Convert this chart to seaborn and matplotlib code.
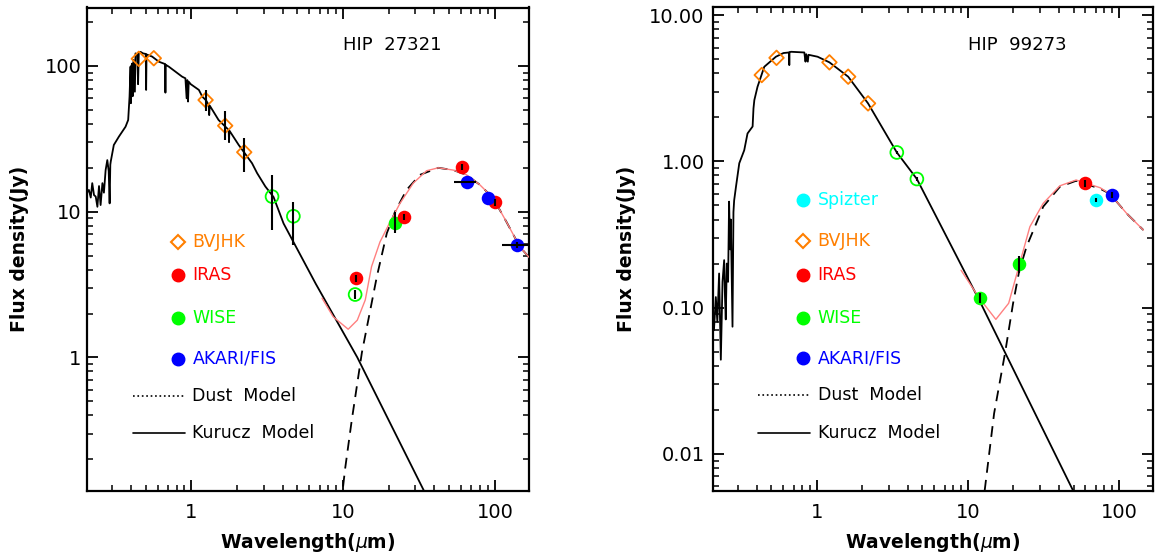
import numpy as np
import pandas as pd
import matplotlib
matplotlib.use("Agg")
import matplotlib.pyplot as plt
import seaborn as sns
from matplotlib.ticker import FixedLocator, FixedFormatter, LogLocator, NullFormatter

# ---------------- HIP 27321 (left) ----------------
l_star = "HIP  27321"
l_kur_wl = [0.205, 0.211, 0.217, 0.222, 0.228, 0.234, 0.240, 0.246, 0.252, 0.259, 0.265,
            0.272, 0.279, 0.285, 0.289, 0.292, 0.294, 0.308, 0.333, 0.368, 0.383, 0.391,
            0.397, 0.399, 0.402, 0.407, 0.410, 0.415, 0.424, 0.428, 0.440, 0.445, 0.450,
            0.462, 0.480, 0.500, 0.503, 0.506, 0.551, 0.610, 0.672, 0.674, 0.676, 0.709,
            0.868, 0.913, 0.930, 0.940, 0.950, 0.960, 0.990, 1.12, 1.18, 1.25, 1.30, 1.31,
            1.32, 1.51, 1.76, 1.77, 1.78, 2.05, 2.51, 2.71, 3.07, 3.48, 4.05, 6.6, 12.4,
            33.9, 36.0]
l_kur_fx = [13.5, 14.1, 12.5, 15.7, 13.0, 12.7, 10.8, 15.0, 11.1, 15.7, 13.5,
            19.3, 22.6, 19.0, 11.4, 21.0, 22.1, 28.7, 32.8, 38.3, 42.6, 61.6,
            99.0, 55.5, 100.0, 104.0, 62.0, 110.0, 66.6, 122.0, 120.0, 75.0, 123.0,
            125.0, 122.0, 121.0, 68.5, 120.0, 116.0, 107.0, 103.0, 65.6, 102.0, 99.0,
            84.5, 82.3, 60.0, 80.0, 57.0, 78.0, 75.0, 68.5, 61.6, 58.0, 54.0, 46.0,
            53.5, 42.6, 36.4, 30.0, 36.0, 28.7, 21.5, 18.4, 14.9, 12.6, 8.3, 3.2, 1.0,
            0.123, 0.108]
l_dust_wl = [10.0, 10.3, 11.4, 13.3, 16.7, 19.4, 22.0, 26.2, 32.1, 42.4, 53.2, 65.1,
             79.6, 97.5, 119.4, 146.0, 170.0]
l_dust_fx = [0.13, 0.171, 0.37, 1.08, 3.6, 7.1, 10.0, 14.1, 17.9, 20.0, 19.3, 17.9,
             15.3, 12.4, 8.5, 5.75, 4.8]
l_tot_wl = [7.26, 8.6, 10.8, 12.4, 14.0, 15.4, 17.5, 20.4, 23.7, 29.0, 35.5, 42.4,
            53.2, 65.1, 79.6, 97.5, 119.4, 146.0, 170.0]
l_tot_fx = [2.55, 1.9, 1.56, 1.8, 2.48, 4.2, 6.2, 8.5, 11.4, 15.7, 19.1, 20.0,
            19.3, 17.9, 15.3, 12.4, 8.5, 5.75, 4.8]

l_bv_wl = [0.45, 0.565, 1.24, 1.67, 2.23]
l_bv_fx = [112.0, 113.0, 58.4, 38.9, 25.6]
l_bv_lo = [112.0, 113.0, 48.8, 31.2, 18.8]
l_bv_hi = [112.0, 113.0, 68.4, 48.8, 31.9]
l_wo_wl = [3.4, 4.7, 12.0]
l_wo_fx = [12.7, 9.3, 2.7]
l_wo_lo = [7.5, 5.9, 2.5]
l_wo_hi = [17.9, 11.7, 2.9]
l_wf_wl = [22.1]
l_wf_fx = [8.3]
l_wf_lo = [7.1]
l_wf_hi = [10.0]
l_ir_wl = [12.2, 25.3, 60.4, 100.0]
l_ir_fx = [3.5, 9.2, 20.2, 11.6]
l_ir_lo = [3.3, 8.8, 19.2, 11.0]
l_ir_hi = [3.7, 9.6, 21.2, 12.2]
l_ak_wl = [65.2, 90.4, 139.6]
l_ak_fx = [16.0, 12.4, 5.9]
l_ak_xlo = [53.8, 90.4, 112.0]
l_ak_xhi = [75.0, 90.4, 165.6]
l_ak_lo = [16.0, 12.4, 5.6]
l_ak_hi = [16.0, 12.4, 6.2]

# ---------------- HIP 99273 (right) ----------------
r_star = "HIP  99273"
r_kur_wl = [0.202, 0.203, 0.208, 0.214, 0.219, 0.225, 0.231, 0.237, 0.243, 0.246, 0.249,
            0.253, 0.258, 0.262, 0.266, 0.269, 0.276, 0.280, 0.283, 0.291, 0.306, 0.330,
            0.347, 0.375, 0.380, 0.385, 0.404, 0.448, 0.535, 0.600, 0.654, 0.656, 0.658,
            0.673, 0.825, 0.840, 0.850, 0.870, 0.880, 1.01, 1.21, 1.61, 2.18, 3.38, 4.59,
            12.0, 49.7, 53.0]
r_kur_fx = [0.035, 0.101, 0.07, 0.118, 0.08, 0.171, 0.044, 0.15, 0.211, 0.12, 0.083,
            0.2, 0.15, 0.53, 0.25, 0.40, 0.074, 0.45, 0.54, 0.67, 0.97, 1.19,
            1.55, 1.73, 2.3, 2.62, 3.23, 4.43, 5.19, 5.5, 5.55, 4.55, 5.56,
            5.61, 5.55, 4.8, 5.4, 4.8, 5.35, 5.19, 4.75, 3.79, 2.49, 1.15, 0.757,
            0.11, 0.0056, 0.0048]
r_dust_wl = [12.9, 14.9, 17.6, 19.9, 21.8, 24.4, 31.5, 40.6, 52.0, 75.0, 87.0, 112.5, 145.0]
r_dust_fx = [0.0056, 0.0189, 0.0488, 0.107, 0.176, 0.26, 0.49, 0.67, 0.736, 0.65, 0.60,
             0.44, 0.339]
r_tot_wl = [9.0, 11.9, 15.3, 18.6, 22.0, 25.7, 31.5, 40.6, 52.0, 75.0, 87.0, 112.5, 145.0]
r_tot_fx = [0.18, 0.116, 0.083, 0.107, 0.2, 0.357, 0.516, 0.68, 0.745, 0.66, 0.60, 0.44,
            0.339]

r_sp_wl = [70.0]
r_sp_fx = [0.543]
r_sp_lo = [0.525]
r_sp_hi = [0.56]
r_bv_wl = [0.431, 0.54, 1.21, 1.61, 2.18]
r_bv_fx = [3.89, 5.1, 4.75, 3.79, 2.49]
r_wo_wl = [3.38, 4.59]
r_wo_fx = [1.15, 0.757]
r_wo_lo = [1.12, 0.735]
r_wo_hi = [1.18, 0.78]
r_wf_wl = [12.0, 21.8]
r_wf_fx = [0.117, 0.198]
r_wf_lo = [0.108, 0.172]
r_wf_hi = [0.126, 0.225]
r_ir_wl = [59.5]
r_ir_fx = [0.708]
r_ir_lo = [0.67]
r_ir_hi = [0.75]
r_ak_wl = [89.5]
r_ak_fx = [0.589]
r_ak_lo = [0.56]
r_ak_hi = [0.62]

ORANGE = "#FF7F00"
RED = "#FF0000"
GREEN = "#00FF00"
BLUE = "#0000FF"
CYAN = "#00FFFF"
PINK = "#FF8080"

sns.set_theme(style="ticks")
plt.rcParams["font.family"] = ["DejaVu Sans"]
plt.rcParams["axes.linewidth"] = 1.6
for k in ["text.color", "axes.labelcolor", "xtick.color", "ytick.color", "axes.edgecolor"]:
    plt.rcParams[k] = "black"


def draw_lines(ax, kw, kf, dw, df, tw, tf):
    sns.lineplot(x=kw, y=kf, ax=ax, color="black", lw=1.3, sort=False,
                 estimator=None, zorder=3)
    sns.lineplot(x=dw, y=df, ax=ax, color="black", lw=1.3, sort=False,
                 estimator=None, linestyle=(0, (6, 4)), zorder=3)
    sns.lineplot(x=tw, y=tf, ax=ax, color=PINK, lw=1.0, sort=False,
                 estimator=None, zorder=4)


def bars(ax, x, y, lo, hi, xlo=None, xhi=None):
    x = np.array(x)
    y = np.array(y)
    yerr = [y - np.array(lo), np.array(hi) - y]
    xerr = None
    if xlo is not None:
        xerr = [x - np.array(xlo), np.array(xhi) - x]
    ax.errorbar(x, y, yerr=yerr, xerr=xerr, fmt="none", ecolor="black",
                elinewidth=1.5, capsize=0, zorder=7)


def dots(ax, x, y, color, open_=False, marker="o", size=60):
    if open_:
        sns.scatterplot(x=x, y=y, ax=ax, marker=marker, s=size, facecolors="none",
                        edgecolor=color, linewidth=1.3, zorder=6)
    else:
        sns.scatterplot(x=x, y=y, ax=ax, marker=marker, s=size, color=color,
                        edgecolor=color, linewidth=0, zorder=6)


def style_axes(ax, yticks, ylabels, ylim, ylab_x, ypad):
    ax.set_xscale("log")
    ax.set_yscale("log")
    ax.set_xlim(0.205, 168)
    ax.set_ylim(*ylim)
    ax.xaxis.set_major_locator(FixedLocator([1, 10, 100]))
    ax.xaxis.set_major_formatter(FixedFormatter(["1", "10", "100"]))
    ax.xaxis.set_minor_locator(LogLocator(base=10, subs=np.arange(2, 10)))
    ax.xaxis.set_minor_formatter(NullFormatter())
    ax.yaxis.set_major_locator(FixedLocator(yticks))
    ax.yaxis.set_major_formatter(FixedFormatter(ylabels))
    ax.yaxis.set_minor_locator(LogLocator(base=10, subs=np.arange(2, 10)))
    ax.yaxis.set_minor_formatter(NullFormatter())
    ax.tick_params(which="both", direction="in", top=True, right=True, colors="black",
                   labelsize=14)
    ax.tick_params(which="major", length=8, width=1.3)
    ax.tick_params(which="minor", length=4, width=1.1)
    ax.tick_params(axis="x", which="major", pad=9)
    ax.tick_params(axis="y", which="major", pad=ypad)
    for s in ax.spines.values():
        s.set_visible(True)
        s.set_color("black")
        s.set_linewidth(1.6)
    ax.set_xlabel("Wavelength($\\mu$m)", fontsize=13.5, fontweight="bold", color="black")
    ax.set_ylabel("Flux density(Jy)", fontsize=13.5, fontweight="bold", color="black")
    ax.xaxis.set_label_coords(0.5, -0.082)
    ax.yaxis.set_label_coords(ylab_x, 0.5)


def legend(ax, rows, x_mark, x_text, line_rows):
    for label, color, marker, yy in rows:
        if marker == "D":
            ax.plot([x_mark], [yy], marker="D", ms=7, mfc="none", mec=color, mew=1.5,
                    transform=ax.transAxes, clip_on=False)
        else:
            ax.plot([x_mark], [yy], marker="o", ms=9, color=color, mec=color,
                    transform=ax.transAxes, clip_on=False)
        ax.text(x_text, yy, label, color=color, fontsize=12.5, va="center", ha="left",
                transform=ax.transAxes)
    for label, ls, yy in line_rows:
        ax.plot([0.103, 0.221], [yy, yy], color="black", lw=1.2, ls=ls,
                transform=ax.transAxes)
        ax.text(x_text, yy, label, color="black", fontsize=12.5, va="center", ha="left",
                transform=ax.transAxes)


fig = plt.figure(figsize=(11.55, 5.57), dpi=100)
ax1 = fig.add_axes([87 / 1155, 1 - 491 / 557, 442 / 1155, 483.5 / 557])
ax2 = fig.add_axes([713 / 1155, 1 - 491 / 557, 440 / 1155, 483.7 / 557])

# left panel
ax1.set_xscale("log")
ax1.set_yscale("log")
draw_lines(ax1, l_kur_wl, l_kur_fx, l_dust_wl, l_dust_fx, l_tot_wl, l_tot_fx)
dots(ax1, l_bv_wl, l_bv_fx, ORANGE, open_=True, marker="D", size=55)
dots(ax1, l_wo_wl, l_wo_fx, GREEN, open_=True, size=85)
dots(ax1, l_wf_wl, l_wf_fx, GREEN, size=95)
dots(ax1, l_ir_wl, l_ir_fx, RED, size=95)
dots(ax1, l_ak_wl, l_ak_fx, BLUE, size=95)
bars(ax1, l_bv_wl, l_bv_fx, l_bv_lo, l_bv_hi)
bars(ax1, l_wo_wl, l_wo_fx, l_wo_lo, l_wo_hi)
bars(ax1, l_wf_wl, l_wf_fx, l_wf_lo, l_wf_hi)
bars(ax1, l_ir_wl, l_ir_fx, l_ir_lo, l_ir_hi)
bars(ax1, l_ak_wl, l_ak_fx, l_ak_lo, l_ak_hi, l_ak_xlo, l_ak_xhi)
style_axes(ax1, [1, 10, 100], ["1", "10", "100"], (0.121, 252), -0.131, 4)
ax1.text(0.579, 0.9217, l_star, fontsize=13, va="center", ha="left",
         transform=ax1.transAxes)
legend(ax1,
       [("BVJHK", ORANGE, "D", 0.514), ("IRAS", RED, "o", 0.447),
        ("WISE", GREEN, "o", 0.357), ("AKARI/FIS", BLUE, "o", 0.274)],
       0.2066, 0.2385,
       [("Dust  Model", ":", 0.196), ("Kurucz  Model", "-", 0.119)])

# right panel
ax2.set_xscale("log")
ax2.set_yscale("log")
draw_lines(ax2, r_kur_wl, r_kur_fx, r_dust_wl, r_dust_fx, r_tot_wl, r_tot_fx)
dots(ax2, r_bv_wl, r_bv_fx, ORANGE, open_=True, marker="D", size=55)
dots(ax2, r_wo_wl, r_wo_fx, GREEN, open_=True, size=85)
dots(ax2, r_wf_wl, r_wf_fx, GREEN, size=95)
dots(ax2, r_ir_wl, r_ir_fx, RED, size=95)
dots(ax2, r_sp_wl, r_sp_fx, CYAN, size=95)
dots(ax2, r_ak_wl, r_ak_fx, BLUE, size=95)
bars(ax2, r_wo_wl, r_wo_fx, r_wo_lo, r_wo_hi)
bars(ax2, r_wf_wl, r_wf_fx, r_wf_lo, r_wf_hi)
bars(ax2, r_ir_wl, r_ir_fx, r_ir_lo, r_ir_hi)
bars(ax2, r_sp_wl, r_sp_fx, r_sp_lo, r_sp_hi)
bars(ax2, r_ak_wl, r_ak_fx, r_ak_lo, r_ak_hi)
style_axes(ax2, [0.01, 0.1, 1, 10], ["0.01", "0.10", "1.00", "10.00"], (0.00557, 11.3),
           -0.175, 6)
ax2.text(0.5795, 0.9217, r_star, fontsize=13, va="center", ha="left",
         transform=ax2.transAxes)
legend(ax2,
       [("Spizter", CYAN, "o", 0.602), ("BVJHK", ORANGE, "D", 0.5174),
        ("IRAS", RED, "o", 0.446), ("WISE", GREEN, "o", 0.357),
        ("AKARI/FIS", BLUE, "o", 0.274)],
       0.2036, 0.2377,
       [("Dust  Model", ":", 0.198), ("Kurucz  Model", "-", 0.1205)])

fig.savefig("out.png", dpi=100)
